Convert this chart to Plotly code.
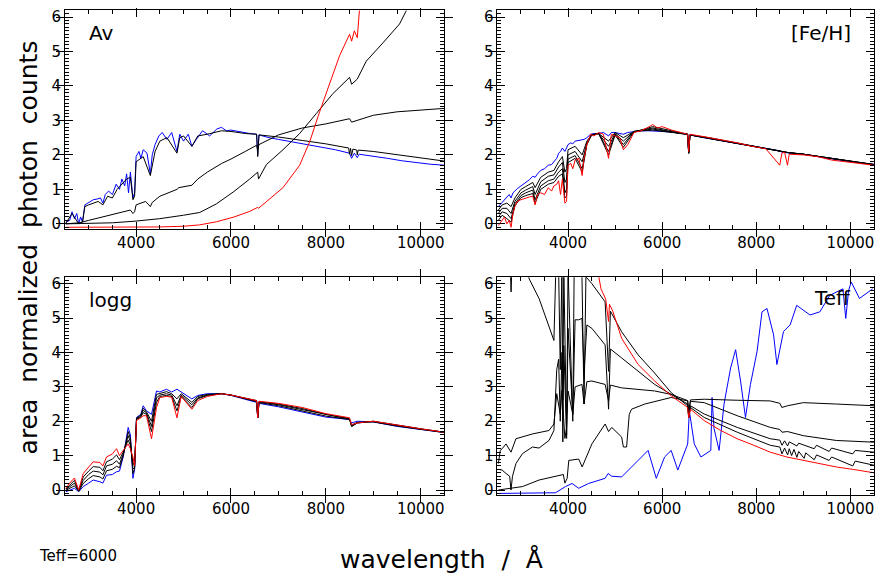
import plotly.graph_objects as go
from plotly.subplots import make_subplots

# ---------------- data ----------------
# Shared wavelength grid for the Teff=6000 spectra (Angstrom)
wl_g = [2520, 2600, 2650, 2700, 2750, 2790, 2830, 2870, 2920, 3000, 3100, 3180, 3250, 3300,
        3350, 3420, 3500, 3580, 3650, 3700, 3760, 3800, 3840, 3880, 3933, 3968, 4000, 4060,
        4101, 4150, 4230, 4300, 4340, 4400, 4480, 4550, 4650, 4750, 4861, 4920, 5000, 5100,
        5175, 5270, 5400, 5550, 5700, 5800, 5900, 6000, 6200, 6400, 6540, 6563, 6590, 6800,
        7000, 7300, 7600, 7900, 8200, 8498, 8542, 8600, 8662, 8700, 9000, 9300, 9600, 9900,
        10200, 10500]

# Panel "Av"
av_blue = [0.05, 0.10, 0.35, 0.15, 0.30, 0.00, 0.20, 0.05, 0.55, 0.62, 0.70, 0.72, 0.75, 0.60,
           0.85, 0.95, 0.85, 1.15, 1.00, 1.30, 1.10, 1.45, 0.90, 1.50, 0.75, 0.90, 1.95, 2.10,
           1.90, 2.15, 2.05, 1.45, 2.00, 2.30, 2.55, 2.65, 2.45, 2.65, 2.10, 2.60, 2.40, 2.60,
           2.25, 2.45, 2.70, 2.55, 2.75, 2.80, 2.70, 2.72, 2.66, 2.62, 2.60, 2.00, 2.58, 2.50,
           2.45, 2.38, 2.30, 2.22, 2.15, 2.05, 1.90, 2.05, 1.92, 2.02, 1.97, 1.90, 1.83, 1.77,
           1.73, 1.70]
av_k1_wl = [2520, 2650, 2790, 2870, 2920, 3000, 3200, 3300, 3400, 3500, 3600, 3700, 3800, 3880,
            3933, 3968, 4000, 4150, 4300, 4400, 4500, 4650, 4861, 4920, 5000, 5175, 5300, 5500,
            5800, 6000, 6300, 6540, 6563, 6590, 7000, 7500, 8000, 8480, 8498, 8520, 8542, 8570,
            8650, 8662, 8680, 9000, 9500, 10000, 10500]
av_k1 = [0.02, 0.30, 0.00, 0.05, 0.50, 0.55, 0.65, 0.55, 0.80, 0.75, 1.00, 1.15, 1.30, 1.35,
         0.70, 0.80, 1.80, 1.95, 1.40, 2.10, 2.40, 2.50, 2.05, 2.50, 2.55, 2.25, 2.55, 2.60,
         2.70, 2.68, 2.62, 2.60, 1.95, 2.58, 2.52, 2.42, 2.32, 2.20, 2.02, 2.19, 1.98, 2.17,
         2.14, 2.00, 2.14, 2.10, 2.00, 1.90, 1.82]
av_k2_wl = [2520, 2800, 3000, 3300, 3600, 3880, 3933, 3968, 4000, 4200, 4300, 4340, 4500, 4861,
            4900, 5175, 5300, 5500, 5800, 6000, 6300, 6540, 6563, 6590, 7000, 7500, 8000, 8500,
            8542, 8662, 9000, 9500, 10000, 10500]
av_k2 = [0.00, 0.03, 0.10, 0.20, 0.30, 0.40, 0.30, 0.35, 0.55, 0.65, 0.50, 0.62, 0.80, 1.00,
         1.05, 1.12, 1.30, 1.50, 1.75, 1.88, 2.10, 2.28, 2.15, 2.30, 2.58, 2.78, 2.90, 3.05,
         2.95, 3.00, 3.15, 3.25, 3.30, 3.35]
av_k3_wl = [2520, 3000, 3500, 4000, 4500, 5000, 5342, 5693, 6044, 6395, 6563, 6580, 6746, 7096,
            7447, 7798, 8149, 8500, 8542, 8662, 8851, 9202, 9553, 9700]
av_k3 = [0.00, 0.01, 0.03, 0.08, 0.15, 0.25, 0.33, 0.58, 0.92, 1.30, 1.50, 1.30, 1.72, 2.15,
         2.62, 3.20, 3.78, 4.25, 4.05, 4.20, 4.72, 5.25, 5.80, 6.20]
av_red_wl = [2520, 4000, 4500, 5000, 5342, 5693, 6044, 6395, 6563, 6580, 6746, 7096, 7447, 7658,
             7868, 8079, 8289, 8500, 8542, 8600, 8662, 8710]
av_red = [-0.10, -0.10, -0.09, -0.07, -0.03, 0.06, 0.19, 0.36, 0.48, 0.45, 0.65, 1.05, 1.70,
          2.38, 3.25, 4.10, 4.88, 5.50, 5.30, 5.60, 5.40, 6.25]

# Panel "[Fe/H]"
fe_blue = [0.50, 0.62, 0.70, 0.80, 0.85, 0.75, 0.90, 0.95, 1.02, 1.10, 1.20, 1.28, 1.38, 1.35,
           1.45, 1.55, 1.60, 1.70, 1.72, 1.80, 1.90, 2.05, 2.10, 2.20, 2.10, 2.20, 2.30, 2.35,
           2.32, 2.40, 2.42, 2.42, 2.45, 2.50, 2.60, 2.62, 2.62, 2.65, 2.55, 2.65, 2.65, 2.62,
           2.60, 2.65, 2.68, 2.70, 2.70, 2.70, 2.70, 2.68, 2.66, 2.62, 2.60, 2.10, 2.58, 2.52,
           2.48, 2.40, 2.33, 2.26, 2.18, 2.12, 2.08, 2.08, 2.06, 2.05, 2.02, 1.95, 1.88, 1.82,
           1.77, 1.73]
fe_red = [-0.05, 0.10, 0.20, 0.00, 0.10, -0.10, 0.30, 0.50, 0.65, 0.70, 0.75, 0.78, 0.80, 0.55,
          0.85, 0.90, 0.85, 1.05, 0.95, 1.10, 1.15, 1.25, 0.85, 1.30, 0.60, 0.65, 1.70, 1.75,
          1.60, 1.85, 1.90, 1.40, 1.90, 2.30, 2.60, 2.55, 2.65, 2.60, 1.90, 2.60, 2.55, 2.50,
          2.15, 2.30, 2.65, 2.70, 2.80, 2.88, 2.78, 2.82, 2.72, 2.65, 2.60, 2.10, 2.60, 2.55,
          2.50, 2.42, 2.35, 2.25, 2.18, 1.70, 2.05, 2.08, 1.70, 2.02, 2.00, 1.95, 1.85, 1.80,
          1.75, 1.70]
fe_k_wl = [2520, 2600, 2700, 2790, 2870, 3000, 3100, 3250, 3300, 3420, 3580, 3700, 3800, 3880,
           3933, 3968, 4000, 4150, 4300, 4400, 4500, 4650, 4861, 5000, 5175, 5400, 5800, 6000,
           6400, 6540, 6563, 6590, 7000, 8000, 8498, 8662, 9000, 10000, 10500]
fe_k1 = [0.40, 0.55, 0.60, 0.50, 0.75, 1.00, 1.08, 1.20, 1.05, 1.35, 1.50, 1.55, 1.80, 1.95,
         1.50, 1.60, 2.15, 2.25, 2.00, 2.40, 2.58, 2.62, 2.40, 2.65, 2.50, 2.68, 2.72, 2.68,
         2.62, 2.60, 2.05, 2.58, 2.48, 2.25, 2.12, 2.07, 2.02, 1.82, 1.72]
fe_k2 = [0.30, 0.45, 0.45, 0.30, 0.65, 0.90, 0.98, 1.08, 0.85, 1.22, 1.38, 1.42, 1.65, 1.78,
         1.20, 1.30, 2.00, 2.10, 1.80, 2.35, 2.58, 2.62, 2.25, 2.62, 2.40, 2.68, 2.75, 2.70,
         2.62, 2.60, 2.05, 2.58, 2.48, 2.25, 2.12, 2.07, 2.02, 1.82, 1.72]
fe_k3 = [0.20, 0.35, 0.30, 0.15, 0.58, 0.82, 0.90, 0.98, 0.70, 1.10, 1.25, 1.30, 1.50, 1.60,
         0.90, 1.00, 1.88, 1.98, 1.60, 2.32, 2.58, 2.62, 2.10, 2.60, 2.30, 2.68, 2.78, 2.72,
         2.62, 2.60, 2.05, 2.58, 2.48, 2.25, 2.12, 2.07, 2.02, 1.82, 1.72]
fe_k4 = [0.10, 0.25, 0.15, 0.05, 0.52, 0.76, 0.82, 0.88, 0.60, 1.00, 1.15, 1.20, 1.38, 1.45,
         0.75, 0.80, 1.78, 1.90, 1.50, 2.30, 2.58, 2.62, 2.00, 2.58, 2.22, 2.66, 2.82, 2.76,
         2.64, 2.60, 2.05, 2.58, 2.50, 2.24, 2.12, 2.07, 2.02, 1.82, 1.71]

# Panel "logg"
lg_wl = [2520, 2600, 2700, 2790, 2886, 3000, 3096, 3237, 3300, 3377, 3500, 3588, 3650, 3728,
         3800, 3833, 3880, 3933, 3968, 4009, 4100, 4149, 4219, 4325, 4430, 4500, 4640, 4750,
         4861, 4950, 5175, 5300, 5500, 5800, 6000, 6400, 6540, 6563, 6590, 7000, 7500, 8000,
         8498, 8542, 8662, 9000, 9500, 10000, 10500]
lg_blue = [-0.05, 0.00, 0.05, -0.05, 0.10, 0.20, 0.29, 0.24, 0.20, 0.43, 0.45, 0.53, 0.55, 0.96,
           1.50, 1.82, 1.60, 0.34, 0.60, 2.11, 2.20, 2.45, 2.30, 2.20, 2.88, 2.85, 2.93, 2.85,
           2.93, 2.85, 2.65, 2.75, 2.80, 2.80, 2.75, 2.60, 2.55, 2.10, 2.52, 2.42, 2.28, 2.12,
           2.05, 1.95, 2.00, 1.98, 1.85, 1.76, 1.67]
lg_red = [0.05, 0.20, 0.35, 0.00, 0.48, 0.65, 0.82, 0.80, 0.70, 0.96, 1.05, 1.20, 1.00, 1.15,
          1.30, 1.34, 1.20, 0.96, 0.70, 2.02, 2.10, 2.16, 2.16, 1.49, 2.40, 2.69, 2.72, 2.70,
          2.10, 2.72, 2.35, 2.60, 2.72, 2.80, 2.76, 2.65, 2.60, 2.10, 2.58, 2.52, 2.40, 2.22,
          2.10, 1.90, 1.95, 2.00, 1.88, 1.78, 1.68]
lg_k1 = [0.03, 0.15, 0.28, -0.02, 0.38, 0.55, 0.68, 0.66, 0.56, 0.82, 0.90, 1.02, 0.88, 1.10,
         1.35, 1.45, 1.30, 0.80, 0.68, 2.05, 2.12, 2.25, 2.20, 1.70, 2.55, 2.72, 2.75, 2.72,
         2.30, 2.72, 2.40, 2.65, 2.75, 2.80, 2.76, 2.64, 2.60, 2.10, 2.57, 2.50, 2.37, 2.20,
         2.08, 1.85, 1.95, 2.00, 1.88, 1.78, 1.68]
lg_k2 = [0.01, 0.10, 0.20, -0.03, 0.28, 0.45, 0.55, 0.52, 0.44, 0.70, 0.75, 0.85, 0.75, 1.04,
         1.42, 1.58, 1.40, 0.62, 0.64, 2.07, 2.15, 2.32, 2.24, 1.85, 2.68, 2.76, 2.80, 2.76,
         2.45, 2.76, 2.48, 2.68, 2.76, 2.80, 2.76, 2.63, 2.58, 2.10, 2.56, 2.48, 2.34, 2.18,
         2.06, 1.85, 1.95, 1.99, 1.87, 1.77, 1.68]
lg_k3 = [-0.01, 0.05, 0.12, -0.04, 0.19, 0.33, 0.42, 0.38, 0.32, 0.56, 0.60, 0.69, 0.65, 1.00,
         1.46, 1.70, 1.50, 0.48, 0.62, 2.09, 2.18, 2.38, 2.27, 2.00, 2.78, 2.80, 2.86, 2.80,
         2.65, 2.80, 2.55, 2.72, 2.78, 2.80, 2.76, 2.62, 2.57, 2.10, 2.54, 2.45, 2.31, 2.15,
         2.05, 1.88, 1.97, 1.98, 1.86, 1.77, 1.67]

# Panel "Teff"
tf_red_wl = [4647, 4700, 4800, 4861, 4880, 4950, 5139, 5489, 5840, 6191, 6542, 6563, 6600, 6893,
             7244, 7595, 7946, 8296, 8647, 8998, 9349, 9700, 10051, 10500]
tf_red = [6.25, 5.85, 5.55, 4.90, 5.40, 5.20, 4.41, 3.65, 3.17, 2.74, 2.40, 2.10, 2.35, 2.02,
          1.73, 1.49, 1.30, 1.10, 0.96, 0.86, 0.77, 0.67, 0.60, 0.50]
tf_k1_wl = [2520, 2770, 2790, 2810, 3100, 3174, 3384, 3665, 3700, 3740, 3800, 3835, 3870, 3889,
            3910, 3970, 4000, 4101, 4130, 4296, 4340, 4380, 4507, 4788, 4861, 4900, 5139, 5489,
            5840, 6191, 6542, 6563, 6600, 6893, 7595, 8296, 8500, 8545, 8600, 8665, 8700, 8750,
            8800, 8862, 8900, 9015, 9050, 9229, 9280, 9546, 9600, 10049, 10100, 10500]
tf_k1 = [6.60, 6.60, 5.76, 6.60, 6.60, 6.14, 5.57, 4.51, 4.35, 6.40, 6.40, 3.50, 6.40, 2.60,
         6.40, 1.60, 6.40, 2.00, 6.40, 6.20, 2.50, 6.20, 6.00, 5.47, 3.45, 5.20, 4.60, 3.93,
         3.40, 2.83, 2.45, 2.10, 2.40, 2.11, 1.68, 1.30, 1.25, 1.05, 1.22, 1.02, 1.20, 1.00,
         1.18, 0.95, 1.12, 0.92, 1.08, 0.88, 1.02, 0.86, 0.96, 0.70, 0.84, 0.72]
tf_k2_wl = [2520, 2600, 2682, 2760, 2788, 2820, 2893, 3033, 3244, 3384, 3595, 3700, 3760, 3800,
            3835, 3870, 3889, 3910, 3970, 4000, 4101, 4150, 4226, 4296, 4340, 4400, 4507, 4788,
            4861, 4900, 5139, 5489, 5840, 6191, 6542, 6563, 6600, 6893, 7595, 8296, 8500, 8545,
            8600, 8665, 8700, 8862, 8900, 9229, 9280, 9546, 9600, 10049, 10100, 10500]
tf_k2 = [0.60, 0.58, 0.48, 0.40, 0.00, 0.40, 0.77, 1.06, 1.25, 1.22, 1.44, 1.73, 3.50, 3.80,
         2.00, 4.00, 1.40, 4.20, 1.50, 4.70, 2.20, 4.95, 4.95, 4.99, 3.40, 4.80, 4.70, 4.22,
         2.35, 4.10, 3.84, 3.45, 3.07, 2.78, 2.50, 2.15, 2.45, 2.21, 1.82, 1.49, 1.45, 1.30,
         1.43, 1.28, 1.40, 1.28, 1.36, 1.20, 1.30, 1.12, 1.22, 1.05, 1.15, 1.10]
tf_k3_wl = [2520, 2560, 2600, 2682, 2788, 2893, 3244, 3595, 3700, 3760, 3835, 3870, 3933, 3968,
            4000, 4101, 4150, 4296, 4340, 4400, 4507, 4788, 4861, 4900, 5139, 5489, 5840, 6191,
            6542, 6563, 6600, 6893, 7595, 8296, 8500, 8545, 8662, 8998, 9700, 10500]
tf_k3 = [0.77, 1.15, 1.20, 1.34, 1.10, 1.49, 1.63, 1.73, 1.92, 2.80, 2.20, 2.90, 1.50, 1.80,
         2.88, 2.20, 3.00, 3.07, 2.50, 3.15, 3.17, 3.07, 2.60, 3.05, 2.97, 2.93, 2.88, 2.78,
         2.60, 2.30, 2.58, 2.54, 2.16, 1.82, 1.76, 1.68, 1.70, 1.58, 1.44, 1.39]
tf_k4_wl = [2520, 3033, 3384, 3665, 3900, 3933, 3981, 4016, 4226, 4300, 4507, 4788, 4861, 4928,
            5139, 5175, 5244, 5300, 5349, 5630, 6191, 6542, 6563, 6600, 6893, 7595, 8296, 8500,
            8542, 8662, 8998, 9700, 10500]
tf_k4 = [0.00, 0.10, 0.29, 0.38, 0.45, 0.20, 0.34, 0.86, 0.90, 0.67, 1.34, 1.92, 1.70, 1.82,
         1.54, 1.25, 1.25, 2.20, 2.35, 2.50, 2.69, 2.59, 2.10, 2.62, 2.64, 2.61, 2.59, 2.52,
         2.40, 2.45, 2.54, 2.50, 2.45]
tf_blue_wl = [2520, 3500, 3735, 3946, 4086, 4226, 4437, 4788, 4850, 4928, 5139, 5489, 5700,
              5875, 6051, 6191, 6332, 6542, 6577, 6682, 6823, 7033, 7060, 7100, 7209, 7314,
              7454, 7560, 7665, 7770, 7875, 8016, 8121, 8226, 8367, 8437, 8577, 8718, 8858,
              9139, 9349, 9560, 9840, 9900, 9960, 10016, 10191, 10472]
tf_blue = [-0.10, -0.10, -0.08, 0.10, 0.19, 0.05, 0.19, 0.34, 0.48, 0.40, 0.38, 0.86, 1.15,
           0.34, 0.96, 1.15, 0.58, 1.34, 2.30, 1.34, 0.96, 1.15, 2.69, 1.80, 1.15, 2.50,
           3.55, 4.08, 3.17, 2.11, 3.07, 4.03, 5.18, 5.28, 4.51, 3.65, 4.61, 4.80, 5.37,
           5.09, 5.18, 5.66, 5.85, 4.99, 5.80, 6.05, 5.57, 5.85]

PANEL_LABELS = ["Av", "[Fe/H]", "logg", "Teff"]
X_MAJOR = [4000, 6000, 8000, 10000]
Y_MAJOR = [0, 1, 2, 3, 4, 5, 6]
X_MINOR = [w for w in range(2500, 10501, 500) if w not in X_MAJOR]
Y_MINOR = [round(k / 10, 1) for k in range(-1, 62) if k % 10 != 0]

# ---------------- figure ----------------
BLUE, RED, BLACK = "#0000ff", "#ff0000", "#000000"
fig = make_subplots(rows=2, cols=2)


def add(x, y, color, row, col):
    fig.add_trace(go.Scatter(x=x, y=y, mode="lines", line=dict(color=color, width=1),
                             showlegend=False, hoverinfo="skip"), row=row, col=col)


# Av
add(wl_g, av_blue, BLUE, 1, 1)
add(av_k1_wl, av_k1, BLACK, 1, 1)
add(av_k2_wl, av_k2, BLACK, 1, 1)
add(av_k3_wl, av_k3, BLACK, 1, 1)
add(av_red_wl, av_red, RED, 1, 1)
# [Fe/H]
add(wl_g, fe_blue, BLUE, 1, 2)
for ks in (fe_k1, fe_k2, fe_k3, fe_k4):
    add(fe_k_wl, ks, BLACK, 1, 2)
add(wl_g, fe_red, RED, 1, 2)
# logg
add(lg_wl, lg_blue, BLUE, 2, 1)
for ks in (lg_k1, lg_k2, lg_k3):
    add(lg_wl, ks, BLACK, 2, 1)
add(lg_wl, lg_red, RED, 2, 1)
# Teff
add(tf_blue_wl, tf_blue, BLUE, 2, 2)
add(tf_k1_wl, tf_k1, BLACK, 2, 2)
add(tf_k2_wl, tf_k2, BLACK, 2, 2)
add(tf_k3_wl, tf_k3, BLACK, 2, 2)
add(tf_k4_wl, tf_k4, BLACK, 2, 2)
add(tf_red_wl, tf_red, RED, 2, 2)

# The page body adds an 8px offset; the figure is sized so it fits the 883x583 window.
OFF = 8
W, H = 883 - 2 * OFF, 583 - 2 * OFF


def px(x):
    return (x - OFF) / W


def py(y):
    return 1 - (y - OFF) / H


FONT = "DejaVu Sans"
XR, YR = [2500, 10500], [-0.14, 6.19]
xdom = {1: [px(65), px(445)], 2: [px(498), min(px(875.5), 1.0)]}
ydom = {1: [py(229), py(8.5)], 2: [py(498), py(278)]}

axis_common = dict(showline=True, linecolor="black", linewidth=1, mirror="allticks",
                   ticks="inside", tickcolor="black", tickwidth=1, showgrid=False,
                   zeroline=False, tickfont=dict(family=FONT, size=15, color="black"))

panels = [(1, 1), (1, 2), (2, 1), (2, 2)]
for i, (r, c) in enumerate(panels, start=1):
    fig.update_xaxes(range=XR, domain=xdom[c], tickvals=X_MAJOR,
                     ticktext=[str(v) for v in X_MAJOR], ticklen=7,
                     row=r, col=c, **axis_common)
    fig.update_yaxes(range=YR, domain=ydom[r], tickvals=Y_MAJOR,
                     ticktext=[str(v) for v in Y_MAJOR], ticklen=8,
                     row=r, col=c, **axis_common)
    # overlay axes carrying the minor ticks
    j = i + 4
    fig.layout[f"xaxis{j}"] = dict(overlaying=f"x{i}", anchor=f"y{i}", side="bottom",
                                   range=XR, domain=xdom[c], tickvals=X_MINOR, ticks="inside",
                                   ticklen=4, tickcolor="black", tickwidth=1,
                                   showticklabels=False, showline=False, showgrid=False,
                                   zeroline=False, mirror="allticks")
    fig.layout[f"yaxis{j}"] = dict(overlaying=f"y{i}", anchor=f"x{i}", side="left",
                                   range=YR, domain=ydom[r], tickvals=Y_MINOR, ticks="inside",
                                   ticklen=4, tickcolor="black", tickwidth=1,
                                   showticklabels=False, showline=False, showgrid=False,
                                   zeroline=False, mirror="allticks")
    fig.add_trace(go.Scatter(x=[None], y=[None], xaxis=f"x{j}", yaxis=f"y{i}",
                             showlegend=False, hoverinfo="skip"))
    fig.add_trace(go.Scatter(x=[None], y=[None], xaxis=f"x{i}", yaxis=f"y{j}",
                             showlegend=False, hoverinfo="skip"))

ann = []
lab_font = dict(family=FONT, size=20, color="black")
ann.append(dict(text=PANEL_LABELS[0], x=px(87), y=py(31), xanchor="left", yanchor="middle",
                font=lab_font))
ann.append(dict(text=PANEL_LABELS[1], x=px(854), y=py(31), xanchor="right", yanchor="middle",
                font=lab_font))
ann.append(dict(text=PANEL_LABELS[2], x=px(87), y=py(301), xanchor="left", yanchor="middle",
                font=lab_font))
ann.append(dict(text=PANEL_LABELS[3], x=px(854), y=py(299), xanchor="right", yanchor="middle",
                font=lab_font))
ann.append(dict(text="area  normalized  photon  counts", x=px(28), y=py(248), textangle=-90,
                xanchor="center", yanchor="middle", font=dict(family=FONT, size=25, color="black")))
ann.append(dict(text="wavelength  /  Å", x=px(442), y=py(563), xanchor="center",
                yanchor="middle", font=dict(family=FONT, size=25, color="black")))
ann.append(dict(text="Teff=6000", x=px(37), y=py(560), xanchor="left", yanchor="middle",
                font=dict(family=FONT, size=15, color="black")))
for a in ann:
    a.update(xref="paper", yref="paper", showarrow=False)

fig.update_layout(width=W, height=H, margin=dict(l=0, r=0, t=0, b=0),
                  paper_bgcolor="white", plot_bgcolor="white", annotations=ann,
                  font=dict(family=FONT, color="black"))

fig.write_html("out.html")
